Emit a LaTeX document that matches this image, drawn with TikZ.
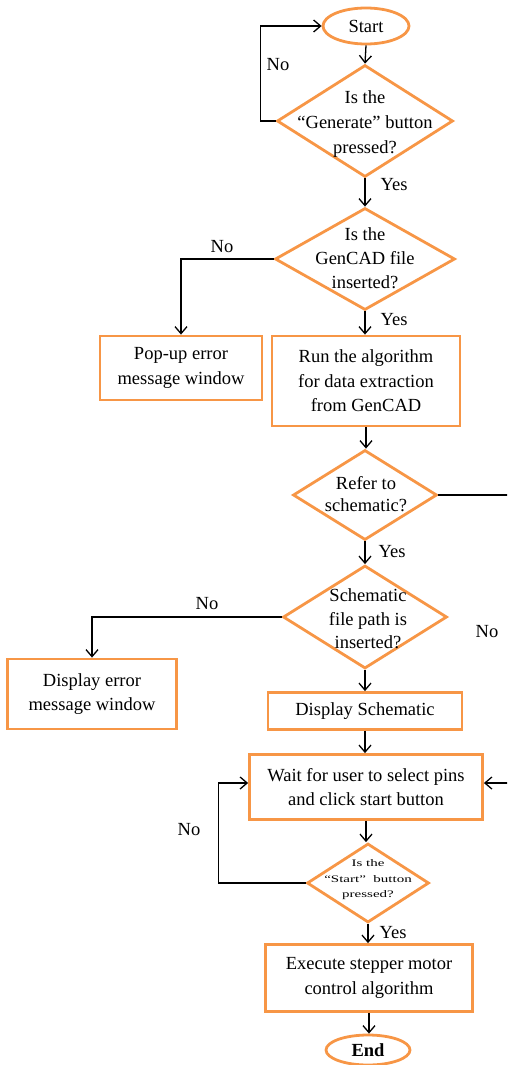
\documentclass[tikz,border=0pt]{standalone}
\usepackage{fontspec}
\setmainfont{Liberation Serif}
\newfontfamily\stretchfont[FakeStretch=1.5]{Liberation Serif}
\usetikzlibrary{shapes.geometric,arrows.meta}
\definecolor{orng}{RGB}{247,150,70}
\begin{document}
\begin{tikzpicture}[x=1pt,y=-1pt,
  mainfont/.style={font=\fontsize{18.5}{24.5}\selectfont},
  box/.style={draw=orng, line width=2.8pt, rectangle, inner sep=0pt, align=center, mainfont},
  dia/.style={draw=orng, line width=2.8pt, diamond, inner sep=0pt},
  term/.style={draw=orng, line width=2.8pt, ellipse, inner sep=0pt, mainfont},
  txt/.style={align=center, inner sep=0pt, mainfont},
  lbl/.style={inner sep=0pt, font=\fontsize{18.5}{20}\selectfont},
  wire/.style={black, line width=1.3pt},
  conn/.style={wire, -{Straight Barb[length=7pt,width=12pt,line width=1.3pt]}}
]
\useasboundingbox (0,0) rectangle (507,1065);
\clip (0,0) rectangle (507,1065);

% nodes
\node[term, minimum width=86pt, minimum height=36pt] (start) at (366,26) {Start};
\node[dia, minimum width=176pt, minimum height=112pt] (d1) at (365,121) {};
\node[txt, font=\fontsize{18.5}{25}\selectfont] (d1t) at (365,124) {Is the\\“Generate” button\\pressed?};
\node[dia, minimum width=180pt, minimum height=102pt] (d2) at (365,259) {};
\node[txt, font=\fontsize{18.5}{24}\selectfont] (d2t) at (365,258) {Is the\\GenCAD file\\inserted?};
\node[box, minimum width=162pt, minimum height=64pt] (popup) at (181,368) {Pop-up error\\message window};
\node[box, minimum width=188pt, minimum height=90pt] (run) at (366,381) {Run the algorithm\\for data extraction\\from GenCAD};
\node[dia, minimum width=144pt, minimum height=90pt] (d3) at (365,495) {};
\node[txt, font=\fontsize{18.5}{22}\selectfont] (d3t) at (366,494) {Refer to\\schematic?};
\node[dia, minimum width=164pt, minimum height=103pt] (d4) at (365,617) {};
\node[txt, font=\fontsize{18.5}{23.5}\selectfont] (d4t) at (368,619) {Schematic\\file path is\\inserted?};
\node[box, minimum width=169pt, minimum height=70pt] (err) at (92,694) {Display error\\message window};
\node[box, minimum width=194pt, minimum height=37pt] (disp) at (365,711) {Display Schematic};
\node[box, minimum width=233pt, minimum height=65pt] (wait) at (366,787) {Wait for user to select pins\\and click start button};
\node[dia, minimum width=122pt, minimum height=79pt] (d5) at (368,883) {};
\node[txt, font=\stretchfont\fontsize{10}{15.5}\selectfont] (d5t) at (368,880) {Is the\\“Start”\ \ button\\pressed?};
\node[box, minimum width=207pt, minimum height=67pt] (exec) at (369,978) {Execute stepper motor\\control algorithm};
\node[term, minimum width=84pt, minimum height=30pt, font=\fontsize{18.5}{20}\selectfont\bfseries] (end) at (368,1050) {End};

% connectors
\draw[conn] (start.south) -- (d1.north);
\draw[conn] (d1.west) -- ++(-15,0) |- (start.west);
\draw[conn] (d1.south) -- (d2.north);
\draw[conn] (d2.west) -| (popup.north);
\draw[conn] (d2.south) -- (d2.south |- run.north);
\draw[conn] (run.south) -- (run.south |- d3.north);
\draw[conn] (d3.east) -- ++(90,0) |- ([yshift=4pt]wait.east);
\draw[conn] (d3.south) -- (d4.north);
\draw[conn] (d4.west) -| (err.north);
\draw[conn] (d4.south) -- (disp.north);
\draw[conn] (disp.south) -- (disp.south |- wait.north);
\draw[conn] (wait.south) -- (wait.south |- d5.north);
\draw[conn] (d5.west) -- ++(-87,0) |- ([yshift=4pt]wait.west);
\draw[conn] (d5.south) -- (d5.south |- exec.north);
\draw[conn] (exec.south) -- (exec.south |- end.north);

% labels
\node[lbl] (l1) at (278,65) {No};
\node[lbl] (l2) at (394,185) {Yes};
\node[lbl] (l3) at (222,247) {No};
\node[lbl] (l4) at (394,320) {Yes};
\node[lbl] (l5) at (392,552) {Yes};
\node[lbl] (l6) at (207,604) {No};
\node[lbl] (l7) at (487,632) {No};
\node[lbl] (l8) at (189,830) {No};
\node[lbl] (l9) at (393,933) {Yes};
\end{tikzpicture}
\end{document}
